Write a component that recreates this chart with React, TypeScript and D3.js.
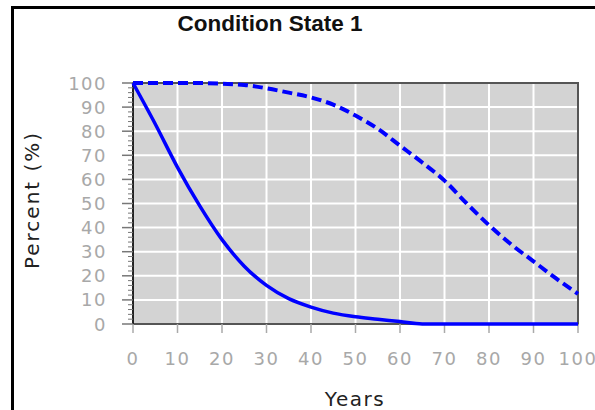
import React, { useEffect, useRef } from 'react';
import * as d3 from 'd3';

// years sampled every 5
const years = [0, 5, 10, 15, 20, 25, 30, 35, 40, 45, 50, 55, 60, 65, 70, 75, 80, 85, 90, 95, 100];
// solid curve
const seriesSolid = [100, 83, 65, 49, 35, 24, 16, 10.5, 7, 4.5, 3, 2, 1, 0, 0, 0, 0, 0, 0, 0, 0];
// dashed curve
const seriesDashed = [100, 100, 100, 100, 99.7, 99.2, 97.8, 96, 94, 91, 86.5, 81, 74, 67, 59.5, 50, 41, 33, 26, 19, 12.5];
const xTicks = [0, 10, 20, 30, 40, 50, 60, 70, 80, 90, 100];
const yTicks = [0, 10, 20, 30, 40, 50, 60, 70, 80, 90, 100];

const App: React.FC = () => {
  const svgRef = useRef<SVGSVGElement>(null);

  useEffect(() => {
    if (!svgRef.current) return;
    const width = 595;
    const height = 410;
    const plot = { left: 133, right: 578, top: 83, bottom: 324 };

    const svg = d3.select(svgRef.current).attr('width', width).attr('height', height);
    svg.selectAll('*').remove();

    const x = d3.scaleLinear().domain([0, 100]).range([plot.left, plot.right]);
    const y = d3.scaleLinear().domain([0, 100]).range([plot.bottom, plot.top]);

    // outer frame (only left and top visible)
    svg
      .append('path')
      .attr('d', `M12.5,${height} V7.5 H${width}`)
      .attr('fill', 'none')
      .attr('stroke', '#000')
      .attr('stroke-width', 3);

    svg
      .append('text')
      .attr('x', 270)
      .attr('y', 31)
      .attr('text-anchor', 'middle')
      .attr('font-family', '"Liberation Sans", Arial, sans-serif')
      .attr('font-weight', 'bold')
      .attr('font-size', 22.5)
      .attr('fill', '#111')
      .text('Condition State 1');

    // plot background
    svg
      .append('rect')
      .attr('x', plot.left)
      .attr('y', plot.top)
      .attr('width', plot.right - plot.left)
      .attr('height', plot.bottom - plot.top)
      .attr('fill', '#d3d3d3');

    // grid
    svg
      .selectAll('.vgrid')
      .data(xTicks.slice(1, -1))
      .enter()
      .append('line')
      .attr('x1', (d) => x(d))
      .attr('x2', (d) => x(d))
      .attr('y1', plot.top)
      .attr('y2', plot.bottom)
      .attr('stroke', '#fff')
      .attr('stroke-width', 2);

    svg
      .selectAll('.hgrid')
      .data(yTicks.slice(1, -1))
      .enter()
      .append('line')
      .attr('x1', plot.left)
      .attr('x2', plot.right)
      .attr('y1', (d) => y(d))
      .attr('y2', (d) => y(d))
      .attr('stroke', '#fff')
      .attr('stroke-width', 2);

    // plot border
    svg
      .append('rect')
      .attr('x', plot.left)
      .attr('y', plot.top)
      .attr('width', plot.right - plot.left)
      .attr('height', plot.bottom - plot.top)
      .attr('fill', 'none')
      .attr('stroke', '#555')
      .attr('stroke-width', 2);

    svg
      .append('line')
      .attr('x1', plot.left)
      .attr('x2', plot.left)
      .attr('y1', plot.top)
      .attr('y2', plot.bottom)
      .attr('stroke', '#222')
      .attr('stroke-width', 2);

    // y ticks (major + minor every 2)
    const minor = d3.range(0, 101, 2).filter((v) => v % 10 !== 0);
    svg
      .selectAll('.ymin')
      .data(minor)
      .enter()
      .append('line')
      .attr('x1', plot.left - 5)
      .attr('x2', plot.left)
      .attr('y1', (d) => y(d))
      .attr('y2', (d) => y(d))
      .attr('stroke', '#777')
      .attr('stroke-width', 1);

    svg
      .selectAll('.ymaj')
      .data(yTicks)
      .enter()
      .append('line')
      .attr('x1', plot.left - 11)
      .attr('x2', plot.left)
      .attr('y1', (d) => y(d))
      .attr('y2', (d) => y(d))
      .attr('stroke', '#777')
      .attr('stroke-width', 1.5);

    svg
      .selectAll('.xtick')
      .data(xTicks)
      .enter()
      .append('line')
      .attr('x1', (d) => x(d))
      .attr('x2', (d) => x(d))
      .attr('y1', plot.bottom)
      .attr('y2', plot.bottom + 9)
      .attr('stroke', '#aaa')
      .attr('stroke-width', 1.5);

    const tickFont = '"DejaVu Sans", Verdana, sans-serif';
    svg
      .selectAll('.ylab')
      .data(yTicks)
      .enter()
      .append('text')
      .attr('x', 107)
      .attr('y', (d) => y(d) + 6.5)
      .attr('text-anchor', 'end')
      .attr('font-family', tickFont)
      .attr('font-size', 18)
      .attr('letter-spacing', 1.5)
      .attr('fill', '#a8a8a8')
      .text((d) => String(d));

    svg
      .selectAll('.xlab')
      .data(xTicks)
      .enter()
      .append('text')
      .attr('x', (d) => x(d))
      .attr('y', 365)
      .attr('text-anchor', 'middle')
      .attr('font-family', tickFont)
      .attr('font-size', 18)
      .attr('letter-spacing', 1.5)
      .attr('fill', '#a8a8a8')
      .text((d) => String(d));

    svg
      .append('text')
      .attr('x', 355)
      .attr('y', 406)
      .attr('text-anchor', 'middle')
      .attr('font-family', tickFont)
      .attr('font-size', 20)
      .attr('letter-spacing', 1.5)
      .attr('fill', '#222')
      .text('Years');

    svg
      .append('text')
      .attr('transform', 'translate(39,200) rotate(-90)')
      .attr('text-anchor', 'middle')
      .attr('font-family', tickFont)
      .attr('font-size', 20)
      .attr('letter-spacing', 2)
      .attr('fill', '#222')
      .text('Percent (%)');

    const line = d3
      .line<number>()
      .x((_, i) => x(years[i]))
      .y((d) => y(d))
      .curve(d3.curveMonotoneX);

    svg
      .append('path')
      .datum(seriesDashed)
      .attr('d', line)
      .attr('fill', 'none')
      .attr('stroke', '#0000ff')
      .attr('stroke-width', 4)
      .attr('stroke-dasharray', '10,5');

    svg
      .append('path')
      .datum(seriesSolid)
      .attr('d', line)
      .attr('fill', 'none')
      .attr('stroke', '#0000ff')
      .attr('stroke-width', 3.5);
  }, []);

  return <svg ref={svgRef} style={{ position: 'absolute', left: 0, top: 0 }}></svg>;
};

export default App;
